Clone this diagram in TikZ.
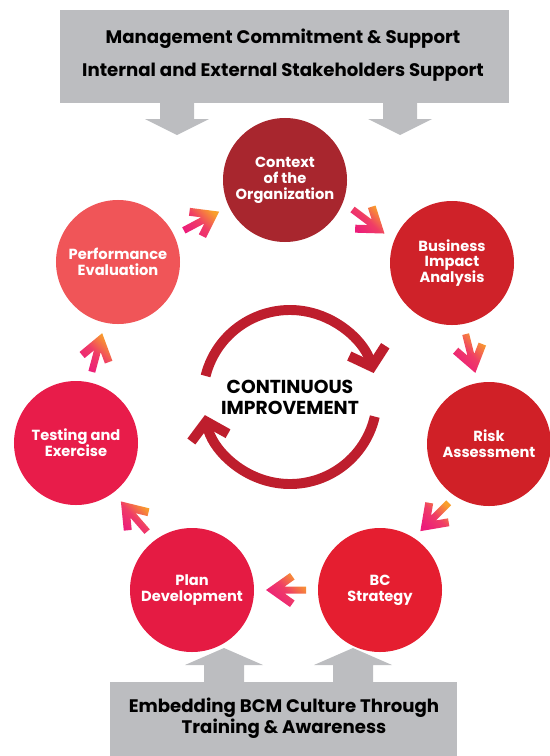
\documentclass[tikz,border=0pt]{standalone}
\usepackage{fontspec}
\setmainfont{Poppins}
\usetikzlibrary{arrows.meta,calc}
\definecolor{bargray}{HTML}{BCBDC0}
\definecolor{ctxred}{HTML}{A8262E}
\definecolor{biared}{HTML}{CF2229}
\definecolor{riskred}{HTML}{D02027}
\definecolor{bcred}{HTML}{E51E30}
\definecolor{planred}{HTML}{E51B43}
\definecolor{testred}{HTML}{E81C4A}
\definecolor{perfred}{HTML}{F05558}
\definecolor{loopred}{HTML}{BE1E2D}
\definecolor{arrpink}{HTML}{EC1C7A}
\definecolor{arrorange}{HTML}{F9A02B}
\begin{document}
\begin{tikzpicture}[x=0.03cm, y=0.03cm,
    stage/.style={circle, minimum size=3.72cm, inner sep=0pt, text=white, align=center,
        font=\bfseries\fontsize{12.5}{13.5}\selectfont},
    chev/.style={top color=arrorange, bottom color=arrpink, middle color=arrpink!75!arrorange, shading angle=-45}]
\useasboundingbox (0,0) rectangle (549,-756);
\fill [bargray] (60,-10) rectangle (509,-103);
\foreach \x in {177,400}
{
    \fill [bargray] (\x-17,-103)--(\x-17,-119)--(\x-32,-119)--(\x,-135)--(\x+32,-119)--(\x+17,-119)--(\x+17,-103);
}
\node[font=\bfseries\fontsize{15.5}{28}\selectfont, align=center] (mgmt) at (283,-55)
    {Management Commitment \& Support\\Internal and External Stakeholders Support};
\fill [bargray] (110,-682) rectangle (457,-756);
\foreach \x in {224,353}
{
    \fill [bargray] (\x-20,-683)--(\x-20,-665)--(\x-39,-665)--(\x,-648)--(\x+39,-665)--(\x+20,-665)--(\x+20,-683);
}
\node[font=\bfseries\fontsize{15.5}{18}\selectfont, align=center] (culture) at (284,-718)
    {Embedding BCM Culture Through\\Training \& Awareness};

\node[stage, fill=ctxred] (ctx) at (285,-180) {Context\\of the\\Organization};
\node[stage, fill=biared] (bia) at (452,-263) {Business\\Impact\\Analysis};
\node[stage, fill=riskred] (risk) at (489,-444) {Risk\\Assessment};
\node[stage, fill=bcred] (bc) at (380,-590) {BC\\Strategy};
\node[stage, fill=planred] (plan) at (192,-590) {Plan\\Development};
\node[stage, fill=testred] (test) at (76,-443) {Testing and\\Exercise};
\node[stage, fill=perfred] (perf) at (118,-262) {Performance\\Evaluation};
\foreach \a/\b/\ang in {perf/ctx/28, ctx/bia/-37, bia/risk/-76, risk/bc/-135, bc/plan/180, plan/test/131, test/perf/75}
{
    \shade[chev, shift={($(\a)!.5!(\b)$)}, rotate=\ang] (20,0)--(-4,17)--(-8.6,10.5)--(1.3,3.5)--(-20,3.5)--(-20,-3.5)--(1.3,-3.5)--(-8.6,-10.5)--(-4,-17)--cycle;
}

\coordinate (loop) at (290,-397);
\draw[loopred, line width=8.5pt, -{Straight Barb[length=14pt, width=32pt]}] ($(loop)+(166:87)$) arc[start angle=166, end angle=16, radius=87];
\draw[loopred, line width=8.5pt, -{Straight Barb[length=14pt, width=32pt]}] ($(loop)+(-13:87)$) arc[start angle=-13, end angle=-168, radius=87];
\node[font=\bfseries\fontsize{16}{18}\selectfont, align=center] (cimp) at (loop) {CONTINUOUS\\IMPROVEMENT};
\end{tikzpicture}
\end{document}
